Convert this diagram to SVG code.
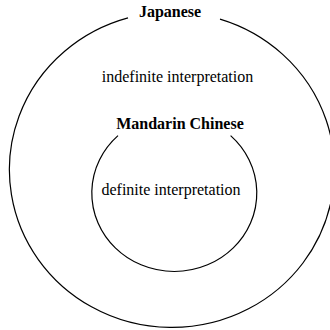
<svg xmlns="http://www.w3.org/2000/svg" width="330" height="330" viewBox="0 0 330 330">
<style>
.ring{fill:none;stroke:#000;stroke-width:1.2}
.lbl{font-family:"Liberation Serif","Times New Roman",serif;font-size:16px;fill:#000;text-anchor:middle}
.b{font-weight:bold}
</style>
<rect width="330" height="330" fill="#fff"/>
<g id="japanese">
<path class="ring" d="M 128 17.9 A 162.5 157.7 0 1 0 220 19.1"/>
<text class="lbl b" x="170" y="17">Japanese</text>
<text class="lbl" x="177.5" y="82">indefinite interpretation</text>
</g>
<g id="mandarin">
<path class="ring" d="M 118 135.6 A 82.5 78.5 0 1 0 230.6 135.6"/>
<text class="lbl b" x="180" y="129">Mandarin Chinese</text>
<text class="lbl" x="171" y="195">definite interpretation</text>
</g>
</svg>
